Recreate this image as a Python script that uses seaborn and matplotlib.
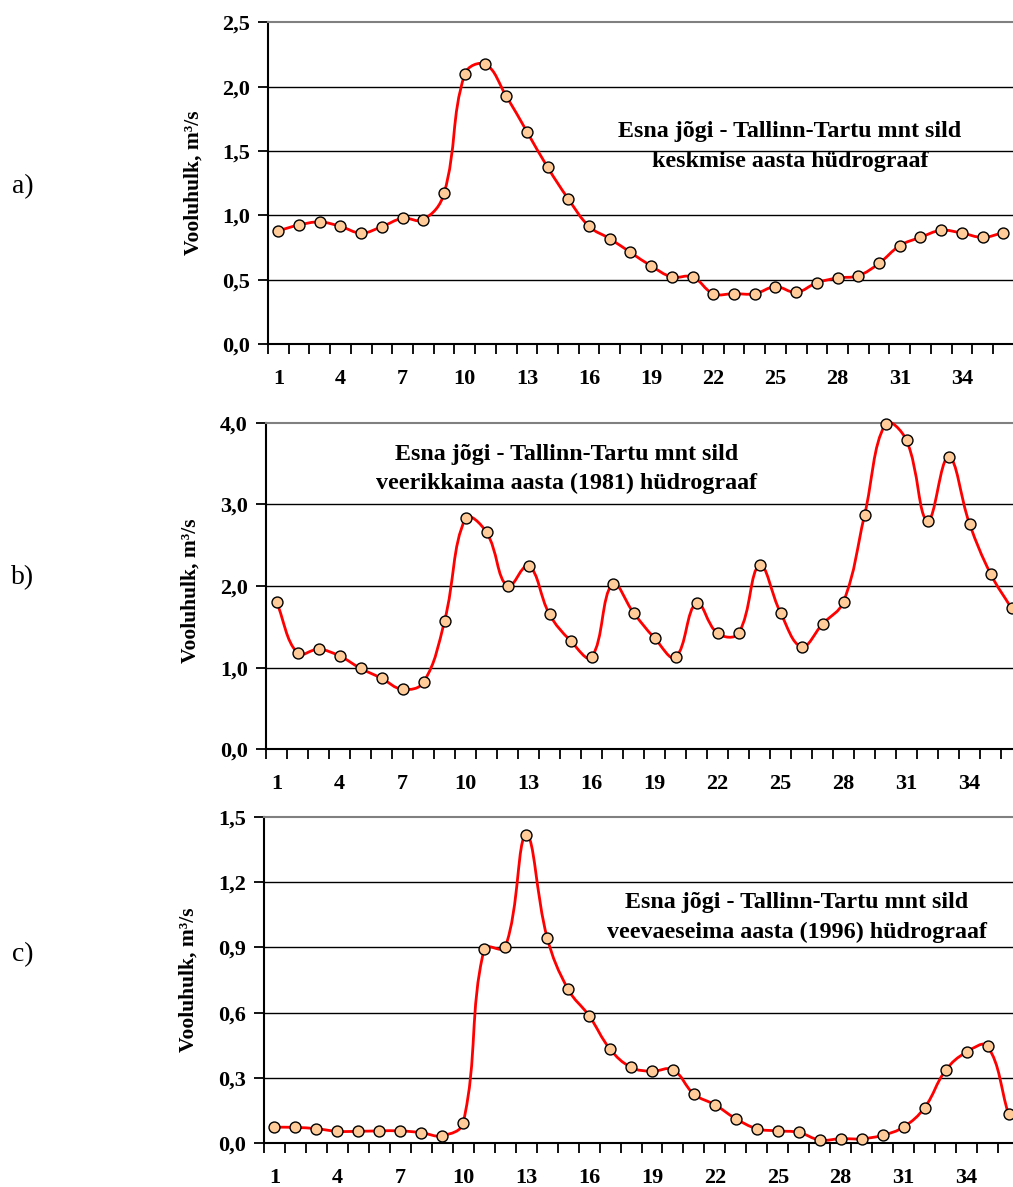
import numpy as np
import pandas as pd
import matplotlib
matplotlib.use("Agg")
import matplotlib.pyplot as plt
import seaborn as sns
from matplotlib.path import Path
from matplotlib.patches import PathPatch
from matplotlib.ticker import FixedLocator, FuncFormatter

# ---------------- data ----------------
weeks = list(range(1, 37))
flow_mean = [0.88, 0.925, 0.948, 0.914, 0.862, 0.912, 0.977, 0.966, 1.171, 2.098,
             2.173, 1.927, 1.650, 1.373, 1.127, 0.914, 0.818, 0.712, 0.606, 0.521,
             0.521, 0.391, 0.391, 0.391, 0.445, 0.402, 0.476, 0.513, 0.531, 0.627,
             0.764, 0.829, 0.883, 0.862, 0.829, 0.865]
flow_wet_1981 = [1.808, 1.176, 1.225, 1.143, 0.992, 0.870, 0.735, 0.821, 1.571, 2.829,
                 2.658, 1.996, 2.249, 1.653, 1.330, 1.127, 2.028, 1.673, 1.363, 1.127,
                 1.792, 1.421, 1.421, 2.253, 1.673, 1.257, 1.535, 1.808, 2.866, 3.988,
                 3.784, 2.800, 3.580, 2.763, 2.151, 1.727]
flow_dry_1996 = [0.074, 0.073, 0.067, 0.055, 0.055, 0.057, 0.057, 0.049, 0.035, 0.095,
                 0.893, 0.900, 1.416, 0.945, 0.707, 0.586, 0.433, 0.349, 0.331, 0.338,
                 0.226, 0.177, 0.113, 0.067, 0.057, 0.050, 0.015, 0.021, 0.021, 0.037,
                 0.075, 0.164, 0.335, 0.419, 0.446, 0.133]
xtick_values = [1, 4, 7, 10, 13, 16, 19, 22, 25, 28, 31, 34]
titles = ["Esna jõgi - Tallinn-Tartu mnt sild\nkeskmise aasta hüdrograaf",
          "Esna jõgi - Tallinn-Tartu mnt sild\nveerikkaima aasta (1981) hüdrograaf",
          "Esna jõgi - Tallinn-Tartu mnt sild\nveevaeseima aasta (1996) hüdrograaf"]
panel_labels = ["a)", "b)", "c)"]
y_max = [2.5, 4.0, 1.5]
y_step = [0.5, 1.0, 0.3]
y_label = "Vooluhulk, m³/s"

series = [flow_mean, flow_wet_1981, flow_dry_1996]

# ---------------- style ----------------
sns.set_style("white")
plt.rcParams['font.family'] = ['Liberation Serif', 'DejaVu Serif']
plt.rcParams['text.color'] = 'black'
plt.rcParams['axes.labelcolor'] = 'black'
plt.rcParams['xtick.color'] = 'black'
plt.rcParams['ytick.color'] = 'black'

fig = plt.figure(figsize=(10.13, 11.87), dpi=100)
W, H = 1013.0, 1187.0

# pixel boxes: left, top, right, bottom
boxes = [(268, 22.3, 1013.7, 344.0),
         (266, 422.7, 1022.0, 749.3),
         (264, 816.7, 1019.0, 1143.3)]
title_pos = [(0.70, 0.614), (0.398, 0.858), (0.706, 0.691)]
ylabel_y = [0.50, 0.485, 0.50]
label_y = [187, 578, 955]


def smooth_path(ax, x, y, t=0.4):
    """Smoothed (Excel-like) bezier through the points, computed in display space."""
    pts = ax.transData.transform(np.column_stack([x, y]).astype(float))
    n = len(pts)
    ctrl_in = [None] * n
    ctrl_out = [None] * n
    for i in range(n):
        p0 = pts[max(i - 1, 0)]
        p1 = pts[i]
        p2 = pts[min(i + 1, n - 1)]
        d01 = np.hypot(*(p1 - p0))
        d12 = np.hypot(*(p2 - p1))
        tot = d01 + d12 if (d01 + d12) > 0 else 1.0
        fa = t * d01 / tot
        fb = t * d12 / tot
        ctrl_in[i] = p1 - fa * (p2 - p0)
        ctrl_out[i] = p1 + fb * (p2 - p0)
    verts = [pts[0]]
    codes = [Path.MOVETO]
    for i in range(n - 1):
        verts += [ctrl_out[i], ctrl_in[i + 1], pts[i + 1]]
        codes += [Path.CURVE4] * 3
    verts = ax.transData.inverted().transform(np.array(verts))
    return Path(verts, codes)


fmt = FuncFormatter(lambda v, p: f"{v:.1f}".replace(".", ","))

for k in range(3):
    l, t, r, b = boxes[k]
    ax = fig.add_axes([l / W, 1 - b / H, (r - l) / W, (b - t) / H])
    df = pd.DataFrame({"week": weeks, "flow": series[k]})

    ax.set_xlim(0.5, 36.5)
    ax.set_ylim(0, y_max[k])

    # smoothed line through the data points
    patch = PathPatch(smooth_path(ax, df["week"].values, df["flow"].values),
                      facecolor="none", edgecolor="#FF0000", lw=2.0, zorder=3,
                      clip_on=False)
    ax.add_patch(patch)
    sns.scatterplot(data=df, x="week", y="flow", ax=ax, s=62, color="#FFCC99",
                    edgecolor="black", linewidth=1.0, zorder=4, clip_on=False,
                    legend=False)

    # y axis
    yt = np.round(np.arange(0, y_max[k] + 1e-9, y_step[k]), 2)
    ax.yaxis.set_major_locator(FixedLocator(yt))
    ax.yaxis.set_major_formatter(fmt)
    ax.tick_params(axis="y", direction="out", length=7, width=1.3, pad=6,
                   labelsize=16, left=True)
    for lab in ax.get_yticklabels():
        lab.set_fontweight("bold")
    for v in yt[1:-1]:
        ax.axhline(v, color="black", lw=1.0, zorder=1)

    # x axis
    ax.xaxis.set_major_locator(FixedLocator(xtick_values))
    ax.set_xticklabels([str(v) for v in xtick_values], fontweight="bold")
    ax.xaxis.set_minor_locator(FixedLocator(np.arange(0.5, 37, 1.0)))
    ax.tick_params(axis="x", which="major", length=0, pad=18, labelsize=16)
    ax.tick_params(axis="x", which="minor", direction="out", length=7, width=1.3,
                   bottom=True)

    ax.set_xlabel("")
    ax.set_ylabel(y_label, fontsize=15.5, fontweight="bold")
    ax.yaxis.set_label_coords(-0.087, ylabel_y[k])

    for s in ["left", "bottom"]:
        ax.spines[s].set_color("black")
        ax.spines[s].set_linewidth(1.5)
    ax.spines["top"].set_color("#808080")
    ax.spines["top"].set_linewidth(1.5)
    ax.spines["right"].set_visible(False)

    ax.text(title_pos[k][0], title_pos[k][1], titles[k], transform=ax.transAxes,
            ha="center", va="center", fontsize=17.3, fontweight="bold",
            linespacing=1.52, zorder=5)

    fig.text(23 / W, 1 - label_y[k] / H, panel_labels[k], ha="center",
             va="center", fontsize=20)

fig.savefig("out.png", dpi=100)
